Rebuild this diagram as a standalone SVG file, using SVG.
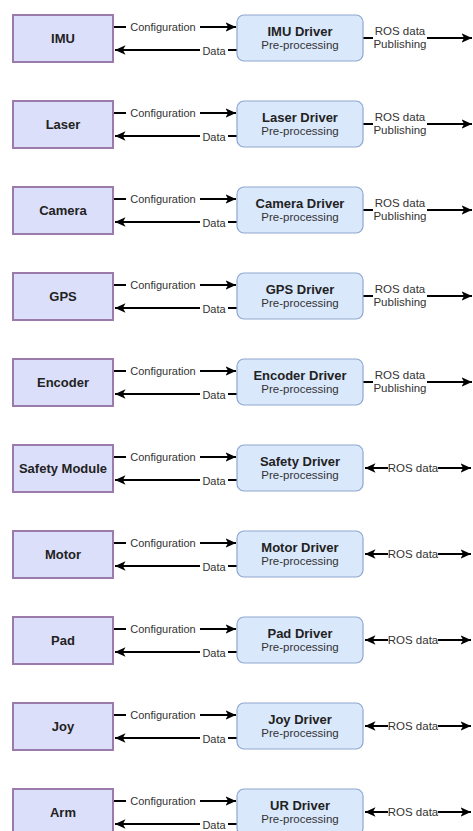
<svg xmlns="http://www.w3.org/2000/svg" width="473" height="831" viewBox="0 0 473 831">
<defs>
<marker id="ah" markerUnits="userSpaceOnUse" markerWidth="12" markerHeight="10" refX="10.5" refY="4.75" orient="auto-start-reverse" viewBox="0 0 12 10">
<path d="M0,0 L10.5,4.75 L0,9.5 L2.6,4.75 Z" fill="#000"/>
</marker>
</defs>
<style>
.dev{fill:#dcdff9;stroke:#9a7bab;stroke-width:2}
.drv{fill:#dae8fc;stroke:#8ea7cf;stroke-width:1.2}
.dt{font-family:"Liberation Sans",Arial,sans-serif;font-size:13px;font-weight:bold;fill:#222;text-anchor:middle}
.st{font-family:"Liberation Sans",Arial,sans-serif;font-size:11.5px;fill:#333;text-anchor:middle}
.lb{font-family:"Liberation Sans",Arial,sans-serif;font-size:11px;fill:#333;text-anchor:middle}
.ln{stroke:#000;stroke-width:2;fill:none}
.ar{marker-end:url(#ah)}
.bi{marker-start:url(#ah);marker-end:url(#ah)}
.pb{fill:#fff}
</style>
<rect width="473" height="831" fill="#fff"/>
<g id="connectors">
<g transform="translate(0,15)"><path class="ln ar" d="M113,12H236"/><path class="ln ar" d="M237,35H115"/><path class="ln ar" d="M363,23H472"/><rect class="pb" x="126" y="5" width="74" height="14"/><text class="lb" x="163" y="15.5">Configuration</text><rect class="pb" x="200" y="29" width="28" height="14"/><text class="lb" x="214" y="40">Data</text><rect class="pb" x="373" y="11" width="54" height="25"/><text class="st" x="400" y="20">ROS data</text><text class="st" x="400" y="33">Publishing</text></g>
<g transform="translate(0,101)"><path class="ln ar" d="M113,12H236"/><path class="ln ar" d="M237,35H115"/><path class="ln ar" d="M363,23H472"/><rect class="pb" x="126" y="5" width="74" height="14"/><text class="lb" x="163" y="15.5">Configuration</text><rect class="pb" x="200" y="29" width="28" height="14"/><text class="lb" x="214" y="40">Data</text><rect class="pb" x="373" y="11" width="54" height="25"/><text class="st" x="400" y="20">ROS data</text><text class="st" x="400" y="33">Publishing</text></g>
<g transform="translate(0,187)"><path class="ln ar" d="M113,12H236"/><path class="ln ar" d="M237,35H115"/><path class="ln ar" d="M363,23H472"/><rect class="pb" x="126" y="5" width="74" height="14"/><text class="lb" x="163" y="15.5">Configuration</text><rect class="pb" x="200" y="29" width="28" height="14"/><text class="lb" x="214" y="40">Data</text><rect class="pb" x="373" y="11" width="54" height="25"/><text class="st" x="400" y="20">ROS data</text><text class="st" x="400" y="33">Publishing</text></g>
<g transform="translate(0,273)"><path class="ln ar" d="M113,12H236"/><path class="ln ar" d="M237,35H115"/><path class="ln ar" d="M363,23H472"/><rect class="pb" x="126" y="5" width="74" height="14"/><text class="lb" x="163" y="15.5">Configuration</text><rect class="pb" x="200" y="29" width="28" height="14"/><text class="lb" x="214" y="40">Data</text><rect class="pb" x="373" y="11" width="54" height="25"/><text class="st" x="400" y="20">ROS data</text><text class="st" x="400" y="33">Publishing</text></g>
<g transform="translate(0,359)"><path class="ln ar" d="M113,12H236"/><path class="ln ar" d="M237,35H115"/><path class="ln ar" d="M363,23H472"/><rect class="pb" x="126" y="5" width="74" height="14"/><text class="lb" x="163" y="15.5">Configuration</text><rect class="pb" x="200" y="29" width="28" height="14"/><text class="lb" x="214" y="40">Data</text><rect class="pb" x="373" y="11" width="54" height="25"/><text class="st" x="400" y="20">ROS data</text><text class="st" x="400" y="33">Publishing</text></g>
<g transform="translate(0,445)"><path class="ln ar" d="M113,12H236"/><path class="ln ar" d="M237,35H115"/><path class="ln bi" d="M365,23H471"/><rect class="pb" x="126" y="5" width="74" height="14"/><text class="lb" x="163" y="15.5">Configuration</text><rect class="pb" x="200" y="29" width="28" height="14"/><text class="lb" x="214" y="40">Data</text><rect class="pb" x="388" y="16" width="50" height="14"/><text class="st" x="413" y="27">ROS data</text></g>
<g transform="translate(0,531)"><path class="ln ar" d="M113,12H236"/><path class="ln ar" d="M237,35H115"/><path class="ln bi" d="M365,23H471"/><rect class="pb" x="126" y="5" width="74" height="14"/><text class="lb" x="163" y="15.5">Configuration</text><rect class="pb" x="200" y="29" width="28" height="14"/><text class="lb" x="214" y="40">Data</text><rect class="pb" x="388" y="16" width="50" height="14"/><text class="st" x="413" y="27">ROS data</text></g>
<g transform="translate(0,617)"><path class="ln ar" d="M113,12H236"/><path class="ln ar" d="M237,35H115"/><path class="ln bi" d="M365,23H471"/><rect class="pb" x="126" y="5" width="74" height="14"/><text class="lb" x="163" y="15.5">Configuration</text><rect class="pb" x="200" y="29" width="28" height="14"/><text class="lb" x="214" y="40">Data</text><rect class="pb" x="388" y="16" width="50" height="14"/><text class="st" x="413" y="27">ROS data</text></g>
<g transform="translate(0,703)"><path class="ln ar" d="M113,12H236"/><path class="ln ar" d="M237,35H115"/><path class="ln bi" d="M365,23H471"/><rect class="pb" x="126" y="5" width="74" height="14"/><text class="lb" x="163" y="15.5">Configuration</text><rect class="pb" x="200" y="29" width="28" height="14"/><text class="lb" x="214" y="40">Data</text><rect class="pb" x="388" y="16" width="50" height="14"/><text class="st" x="413" y="27">ROS data</text></g>
<g transform="translate(0,789)"><path class="ln ar" d="M113,12H236"/><path class="ln ar" d="M237,35H115"/><path class="ln bi" d="M365,23H471"/><rect class="pb" x="126" y="5" width="74" height="14"/><text class="lb" x="163" y="15.5">Configuration</text><rect class="pb" x="200" y="29" width="28" height="14"/><text class="lb" x="214" y="40">Data</text><rect class="pb" x="388" y="16" width="50" height="14"/><text class="st" x="413" y="27">ROS data</text></g>
</g>
<g id="imu" transform="translate(0,15)"><rect class="dev" x="13" y="0" width="100" height="47"/><text class="dt" x="63" y="28">IMU</text></g>
<g id="imu-driver" transform="translate(0,15)"><rect class="drv" x="237" y="0" width="126" height="46" rx="7"/><text class="dt" x="300" y="21">IMU Driver</text><text class="st" x="300" y="34">Pre-processing</text></g>
<g id="laser" transform="translate(0,101)"><rect class="dev" x="13" y="0" width="100" height="47"/><text class="dt" x="63" y="28">Laser</text></g>
<g id="laser-driver" transform="translate(0,101)"><rect class="drv" x="237" y="0" width="126" height="46" rx="7"/><text class="dt" x="300" y="21">Laser Driver</text><text class="st" x="300" y="34">Pre-processing</text></g>
<g id="camera" transform="translate(0,187)"><rect class="dev" x="13" y="0" width="100" height="47"/><text class="dt" x="63" y="28">Camera</text></g>
<g id="camera-driver" transform="translate(0,187)"><rect class="drv" x="237" y="0" width="126" height="46" rx="7"/><text class="dt" x="300" y="21">Camera Driver</text><text class="st" x="300" y="34">Pre-processing</text></g>
<g id="gps" transform="translate(0,273)"><rect class="dev" x="13" y="0" width="100" height="47"/><text class="dt" x="63" y="28">GPS</text></g>
<g id="gps-driver" transform="translate(0,273)"><rect class="drv" x="237" y="0" width="126" height="46" rx="7"/><text class="dt" x="300" y="21">GPS Driver</text><text class="st" x="300" y="34">Pre-processing</text></g>
<g id="encoder" transform="translate(0,359)"><rect class="dev" x="13" y="0" width="100" height="47"/><text class="dt" x="63" y="28">Encoder</text></g>
<g id="encoder-driver" transform="translate(0,359)"><rect class="drv" x="237" y="0" width="126" height="46" rx="7"/><text class="dt" x="300" y="21">Encoder Driver</text><text class="st" x="300" y="34">Pre-processing</text></g>
<g id="safety" transform="translate(0,445)"><rect class="dev" x="13" y="0" width="100" height="47"/><text class="dt" x="63" y="28">Safety Module</text></g>
<g id="safety-driver" transform="translate(0,445)"><rect class="drv" x="237" y="0" width="126" height="46" rx="7"/><text class="dt" x="300" y="21">Safety Driver</text><text class="st" x="300" y="34">Pre-processing</text></g>
<g id="motor" transform="translate(0,531)"><rect class="dev" x="13" y="0" width="100" height="47"/><text class="dt" x="63" y="28">Motor</text></g>
<g id="motor-driver" transform="translate(0,531)"><rect class="drv" x="237" y="0" width="126" height="46" rx="7"/><text class="dt" x="300" y="21">Motor Driver</text><text class="st" x="300" y="34">Pre-processing</text></g>
<g id="pad" transform="translate(0,617)"><rect class="dev" x="13" y="0" width="100" height="47"/><text class="dt" x="63" y="28">Pad</text></g>
<g id="pad-driver" transform="translate(0,617)"><rect class="drv" x="237" y="0" width="126" height="46" rx="7"/><text class="dt" x="300" y="21">Pad Driver</text><text class="st" x="300" y="34">Pre-processing</text></g>
<g id="joy" transform="translate(0,703)"><rect class="dev" x="13" y="0" width="100" height="47"/><text class="dt" x="63" y="28">Joy</text></g>
<g id="joy-driver" transform="translate(0,703)"><rect class="drv" x="237" y="0" width="126" height="46" rx="7"/><text class="dt" x="300" y="21">Joy Driver</text><text class="st" x="300" y="34">Pre-processing</text></g>
<g id="arm" transform="translate(0,789)"><rect class="dev" x="13" y="0" width="100" height="47"/><text class="dt" x="63" y="28">Arm</text></g>
<g id="ur-driver" transform="translate(0,789)"><rect class="drv" x="237" y="0" width="126" height="46" rx="7"/><text class="dt" x="300" y="21">UR Driver</text><text class="st" x="300" y="34">Pre-processing</text></g>
</svg>
